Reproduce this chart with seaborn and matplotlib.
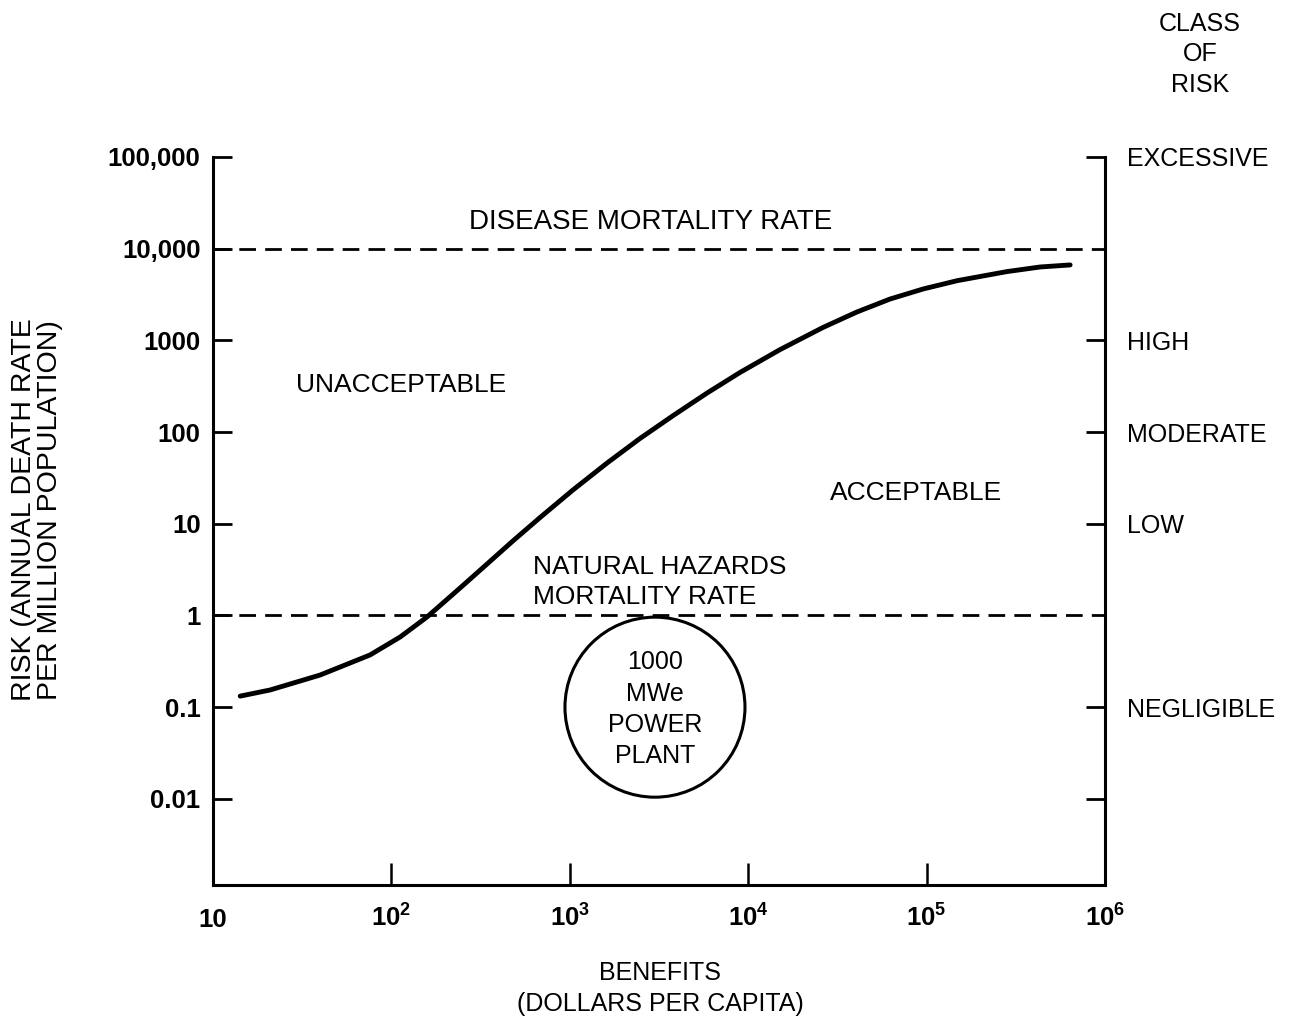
import matplotlib
matplotlib.use("Agg")
import matplotlib.pyplot as plt
import seaborn as sns

# curve: benefit ($ per capita) vs risk (deaths per million per year)
benefit = [14.2, 20.9, 39.8, 75.9, 112, 158, 243, 343, 481, 681, 1042, 1618,
           2470, 3790, 5870, 9000, 15100, 26200, 40700, 62300, 95500, 148000,
           282000, 433000, 637000]
risk = [0.132, 0.154, 0.224, 0.371, 0.583, 0.96, 2.0, 3.63, 6.53, 11.7, 23.4, 46,
        85, 151, 266, 447, 794, 1380, 2040, 2820, 3630, 4470,
        5620, 6310, 6640]

disease_rate = 10000
natural_rate = 1
plant_benefit = [3000]
plant_risk = [0.1]

y_ticks = [0.01, 0.1, 1, 10, 100, 1000, 10000, 100000]
y_labels = ["0.01", "0.1", "1", "10", "100", "1000", "10,000", "100,000"]
x_ticks = [10, 1e2, 1e3, 1e4, 1e5, 1e6]
x_labels = ["10", "$10^2$", "$10^3$", "$10^4$", "$10^5$", "$10^6$"]
class_ticks = [0.01, 0.1, 10, 100, 1000, 100000]
class_labels = ["", "NEGLIGIBLE", "LOW", "MODERATE", "HIGH", "EXCESSIVE"]

sns.set_theme(style="white", rc={"axes.edgecolor": "black", "text.color": "black",
                                 "xtick.color": "black", "ytick.color": "black",
                                 "axes.labelcolor": "black"})
plt.rcParams['font.family'] = ['Liberation Sans', 'DejaVu Sans']
plt.rcParams['mathtext.fontset'] = 'custom'
plt.rcParams['mathtext.rm'] = 'Liberation Sans:bold'
plt.rcParams['mathtext.default'] = 'rm'

fig = plt.figure(figsize=(13.07, 10.23), dpi=100)
ax = fig.add_axes([0.163, 0.135, 0.6825, 0.7116])
ax.set_xscale('log')
ax.set_yscale('log')

sns.lineplot(x=benefit, y=risk, ax=ax, color='black', lw=3.5, sort=False, estimator=None)
sns.scatterplot(x=plant_benefit, y=plant_risk, ax=ax, s=16800, marker='o',
                facecolor='none', edgecolor='black', linewidth=2.2, zorder=3)

dash = (0, (6, 3.3))
ax.axhline(disease_rate, color='black', lw=2, ls=dash)
ax.axhline(natural_rate, color='black', lw=2, ls=dash)

ax.set_xlim(10, 1e6)
ax.set_ylim(10 ** -2.938, 1e5)
ax.minorticks_off()
ax.set_xticks(x_ticks, x_labels)
ax.set_yticks(y_ticks, y_labels)
ax.tick_params(axis='y', direction='in', length=14, width=2, labelsize=18.5, pad=9,
               left=True, right=False)
ax.tick_params(axis='x', direction='in', length=16, width=1.8, labelsize=18.5, pad=30,
               bottom=True)
plt.setp(ax.get_xticklabels(), va='baseline', fontweight='bold')
plt.setp(ax.get_yticklabels(), fontweight='bold')

for side in ['left', 'bottom']:
    ax.spines[side].set_linewidth(2.2)
ax.spines['top'].set_visible(False)
ax.spines['right'].set_visible(False)

# right-hand "class of risk" axis
ax2 = ax.twinx()
ax2.set_yscale('log')
ax2.set_ylim(ax.get_ylim())
ax2.minorticks_off()
ax2.set_yticks(class_ticks, class_labels)
ax2.tick_params(axis='y', direction='in', length=14, width=2, labelsize=18, pad=16,
                right=True, left=False)
for side in ['left', 'top', 'bottom']:
    ax2.spines[side].set_visible(False)
ax2.spines['right'].set_linewidth(2.2)
ax2.grid(False)

ax.set_ylabel("RISK (ANNUAL DEATH RATE\nPER MILLION POPULATION)", fontsize=20.5,
              linespacing=1.0, va='center')
ax.yaxis.set_label_coords(-0.197, 0.515)
ax.set_xlabel("BENEFITS\n(DOLLARS PER CAPITA)", fontsize=18, linespacing=1.38)
ax.xaxis.set_label_coords(0.501, -0.104)

ax.text(2850, 19500, "DISEASE MORTALITY RATE", ha='center', va='center', fontsize=20)
ax.text(113, 327, "UNACCEPTABLE", ha='center', va='center', fontsize=19)
ax.text(87300, 21.7, "ACCEPTABLE", ha='center', va='center', fontsize=19)
ax.text(622, 2.32, "NATURAL HAZARDS\nMORTALITY RATE", ha='left', va='center',
        fontsize=19, linespacing=1.3)
ax.text(3000, 0.095, "1000\nMWe\nPOWER\nPLANT", ha='center', va='center',
        fontsize=18, linespacing=1.38)
fig.text(0.918, 0.947, "CLASS\nOF\nRISK", ha='center', va='center', fontsize=18,
         linespacing=1.35)

fig.savefig("out.png", dpi=100)
